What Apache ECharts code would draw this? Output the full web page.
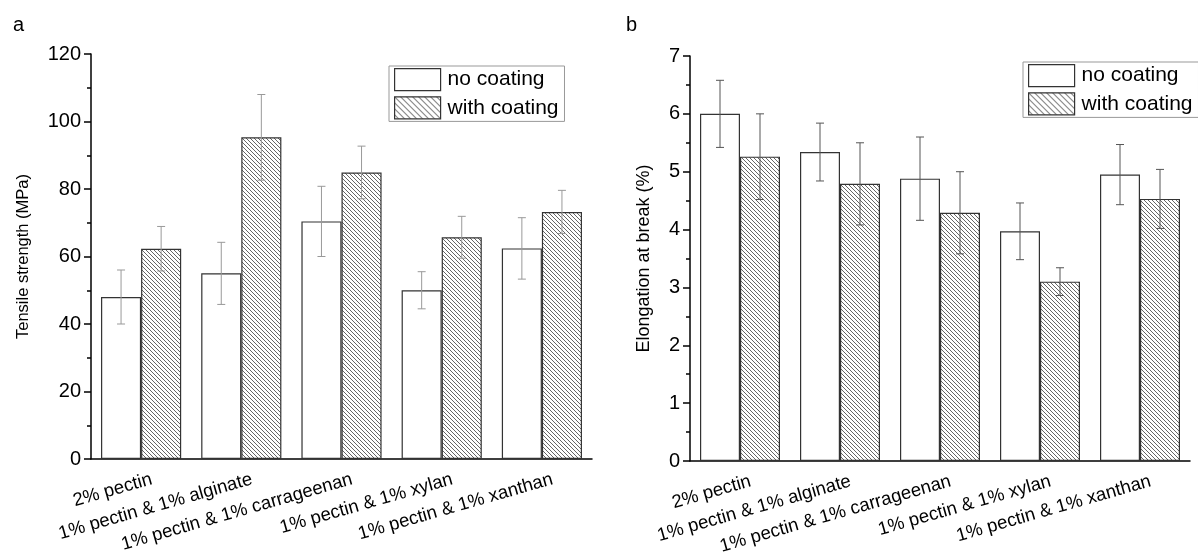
<!DOCTYPE html>
<html>
<head>
<meta charset="utf-8">
<script src="https://cdn.jsdelivr.net/npm/echarts@6/dist/echarts.min.js"></script>
<style>
  html, body { margin: 0; padding: 0; background: #fff; }
  #chart { width: 1198px; height: 554px; }
</style>
</head>
<body>
<div id="chart"></div>
<script>
const categories = ['2% pectin', '1% pectin & 1% alginate', '1% pectin & 1% carrageenan', '1% pectin & 1% xylan', '1% pectin & 1% xanthan']

// tensile strength (MPa)
const tsNoCoating = [48, 55, 70.4, 50, 62.4]
const tsNoCoatingErr = [8, 9.2, 10.4, 5.5, 9.1]
const tsCoating = [62.3, 95.3, 84.9, 65.7, 73.2]
const tsCoatingErr = [6.6, 12.7, 7.8, 6.2, 6.4]

// elongation at break (%)
const elNoCoating = [6.0, 5.34, 4.88, 3.97, 4.95]
const elNoCoatingErr = [0.58, 0.5, 0.72, 0.49, 0.52]
const elCoating = [5.26, 4.79, 4.29, 3.1, 4.53]
const elCoatingErr = [0.74, 0.71, 0.71, 0.24, 0.51]

const font = 'Liberation Sans, Arial, sans-serif'

function hatch(size, color) {
    const c = document.createElement('canvas')
    c.width = size
    c.height = size
    const g = c.getContext('2d')
    g.fillStyle = '#fff'
    g.fillRect(0, 0, size, size)
    g.strokeStyle = color
    g.lineWidth = 1
    g.beginPath()
    for (let k = -1; k <= 1; k++) {
        g.moveTo(0, k * size)
        g.lineTo(size, size + k * size)
    }
    g.stroke()
    return c
}

const barPattern = { image: hatch(4, '#666'), repeat: 'repeat' }
const legendPattern = { image: hatch(6, '#444'), repeat: 'repeat' }

function errData(vals, errs) {
    return vals.map((v, i) => [i, v - errs[i], v + errs[i]])
}

function errSeries(idx, side, vals, errs, color) {
    return {
        type: 'custom',
        xAxisIndex: idx * 2,
        yAxisIndex: idx,
        z: 5,
        silent: true,
        encode: { x: 0, y: [1, 2] },
        data: errData(vals, errs),
        renderItem(params, api) {
            const x = api.value(0)
            const lo = api.coord([x, api.value(1)])
            const hi = api.coord([x, api.value(2)])
            const bw = api.size([1, 0])[0]
            const cx = lo[0] + side * bw * 0.2
            const cap = 4
            const style = { stroke: color, lineWidth: 1 }
            return {
                type: 'group',
                children: [
                    { type: 'line', shape: { x1: cx, y1: lo[1], x2: cx, y2: hi[1] }, style },
                    { type: 'line', shape: { x1: cx - cap, y1: lo[1], x2: cx + cap, y2: lo[1] }, style },
                    { type: 'line', shape: { x1: cx - cap, y1: hi[1], x2: cx + cap, y2: hi[1] }, style }
                ]
            }
        }
    }
}

function xAxes(idx) {
    return [{
        type: 'category',
        gridIndex: idx,
        data: categories,
        axisLine: { lineStyle: { color: '#000', width: 1.5 } },
        axisTick: { length: 4, lineStyle: { color: '#000', width: 1.5 } },
        axisLabel: {
            rotate: 16, fontSize: 18.5, color: '#000', fontFamily: font,
            margin: 23, interval: 0, padding: [0, -11, 0, 0]
        }
    }, {
        type: 'category',
        gridIndex: idx,
        position: 'bottom',
        data: categories,
        axisLine: { show: false },
        axisTick: { alignWithLabel: true, length: 7, lineStyle: { color: '#000', width: 1.5 } },
        axisLabel: { show: false }
    }]
}

function yAxis(idx, max, interval, name, nameGap, nameSize) {
    return {
        type: 'value',
        gridIndex: idx,
        min: 0,
        max: max,
        interval: interval,
        name: name,
        nameLocation: 'middle',
        nameGap: nameGap,
        nameTextStyle: { fontSize: nameSize, color: '#000', fontFamily: font },
        axisLine: { show: true, lineStyle: { color: '#000', width: 1.5 } },
        axisTick: { show: true, length: 7, lineStyle: { color: '#000', width: 1.5 } },
        minorTick: { show: true, splitNumber: 2, length: 4, lineStyle: { color: '#000', width: 1.5 } },
        splitLine: { show: false },
        axisLabel: { fontSize: 20, color: '#000', fontFamily: font, margin: 10 }
    }
}

function barSeries(idx, name, vals, coated) {
    return {
        name: name,
        type: 'bar',
        xAxisIndex: idx * 2,
        yAxisIndex: idx,
        data: vals,
        barGap: '0%',
        barCategoryGap: '20%',
        itemStyle: {
            color: coated ? barPattern : '#fff',
            borderColor: '#333',
            borderWidth: 1.2
        }
    }
}

function legend(left, top) {
    return {
        orient: 'vertical',
        left: left,
        top: top,
        padding: [2, 6, 2, 5],
        itemGap: 5,
        itemWidth: 46,
        itemHeight: 22,
        borderColor: '#999',
        borderWidth: 1,
        textStyle: { fontSize: 21, color: '#000', fontFamily: font, padding: [0, 0, 0, 2] },
        data: [
            { name: 'no coating', icon: 'rect', itemStyle: { color: '#fff', borderColor: '#333', borderWidth: 1.2 } },
            { name: 'with coating', icon: 'rect', itemStyle: { color: legendPattern, borderColor: '#333', borderWidth: 1.2 } }
        ]
    }
}

const chart = echarts.init(document.getElementById('chart'), null, { renderer: 'canvas' })

chart.setOption({
    animation: false,
    backgroundColor: '#fff',
    title: [
        { text: 'a', left: 8, top: 10, textStyle: { fontSize: 20, fontWeight: 'normal', color: '#000', fontFamily: font } },
        { text: 'b', left: 621, top: 10, textStyle: { fontSize: 20, fontWeight: 'normal', color: '#000', fontFamily: font } }
    ],
    legend: [legend(389, 66), legend(1023, 62)],
    grid: [
        { left: 91, top: 54, width: 501, height: 405, outerBoundsMode: 'none' },
        { left: 690, top: 56, width: 500, height: 405, outerBoundsMode: 'none' }
    ],
    xAxis: xAxes(0).concat(xAxes(1)),
    yAxis: [
        yAxis(0, 120, 20, 'Tensile strength (MPa)', 59, 16.5),
        yAxis(1, 7, 1, 'Elongation at break (%)', 37, 18)
    ],
    series: [
        barSeries(0, 'no coating', tsNoCoating, false),
        barSeries(0, 'with coating', tsCoating, true),
        barSeries(1, 'no coating', elNoCoating, false),
        barSeries(1, 'with coating', elCoating, true),
        errSeries(0, -1, tsNoCoating, tsNoCoatingErr, '#999'),
        errSeries(0, 1, tsCoating, tsCoatingErr, '#999'),
        errSeries(1, -1, elNoCoating, elNoCoatingErr, '#555'),
        errSeries(1, 1, elCoating, elCoatingErr, '#555')
    ]
})
</script>
</body>
</html>
